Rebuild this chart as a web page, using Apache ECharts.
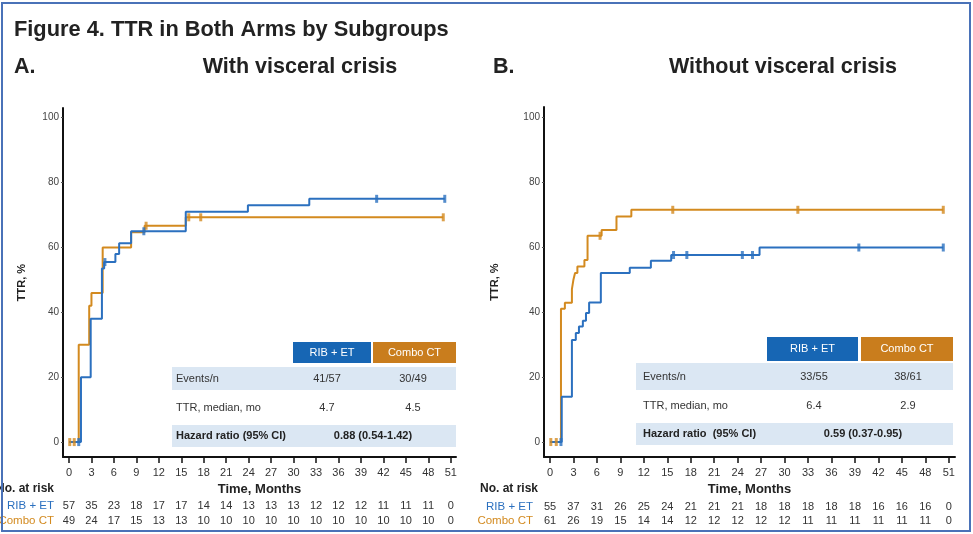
<!DOCTYPE html>
<html>
<head>
<meta charset="utf-8">
<script src="https://cdn.jsdelivr.net/npm/echarts@6/dist/echarts.min.js"></script>
<style>
  html, body { margin: 0; padding: 0; background: #fff; }
  #chart { width: 973px; height: 534px; }
</style>
</head>
<body>
<div id="chart"></div>
<script>
// ---- Axis ticks ----
const monthTicks = [0, 3, 6, 9, 12, 15, 18, 21, 24, 27, 30, 33, 36, 39, 42, 45, 48, 51];
const pctTicks = [0, 20, 40, 60, 80, 100];

// ---- Panel A: with visceral crisis (time in months, cumulative TTR %) ----
const ribWithVC = [[0, 0], [1.6, 20], [2.9, 38], [4.4, 53.5], [4.7, 55.5], [6.2, 58], [6.7, 61.3], [8.3, 65],
  [15.6, 71], [23.9, 73], [32.1, 75], [50.2, 75]];
const ribWithVCCensor = [[1.3, 0], [4.8, 55.5], [10.0, 65], [41.1, 75], [50.2, 75]];
const comboWithVC = [[0, 0], [1.3, 30], [2.7, 42], [3.0, 46], [4.5, 60], [8.3, 64.7], [10.1, 66.7],
  [15.6, 69.3], [50, 69.3]];
const comboWithVCCensor = [[0.1, 0], [0.7, 0], [10.3, 66.7], [16, 69.3], [17.6, 69.3], [50, 69.3]];
const riskRibWithVC = [57, 35, 23, 18, 17, 17, 14, 14, 13, 13, 13, 12, 12, 12, 11, 11, 11, 0];
const riskComboWithVC = [49, 24, 17, 15, 13, 13, 10, 10, 10, 10, 10, 10, 10, 10, 10, 10, 10, 0];
const statsWithVC = { events: ['41/57', '30/49'], median: ['4.7', '4.5'], hr: '0.88 (0.54-1.42)' };

// ---- Panel B: without visceral crisis ----
const ribNoVC = [[0, 0], [1.5, 13.9], [2.8, 31.4], [3.3, 33.5], [3.7, 35.5], [4.2, 37.3], [4.6, 39.7],
  [5.0, 42.9], [6.5, 52], [10.2, 53.6], [12.9, 55.7], [15.5, 57.5], [26.8, 59.8], [50.3, 59.8]];
const ribNoVCCensor = [[1.4, 0], [15.8, 57.5], [17.5, 57.5], [24.6, 57.5], [25.9, 57.5], [39.5, 59.8], [50.3, 59.8]];
const comboNoVC = [[0, 0], [1.4, 41], [1.9, 42.8], [2.8, 47], [3.0, 50], [3.2, 52], [3.5, 54], [4.4, 56],
  [4.8, 63.4], [6.6, 65.2], [8.5, 69.3], [10.4, 71.4], [50.3, 71.4]];
const comboNoVCCensor = [[0.1, 0], [0.8, 0], [6.4, 63.4], [15.7, 71.4], [31.7, 71.4], [50.3, 71.4]];
const riskRibNoVC = [55, 37, 31, 26, 25, 24, 21, 21, 21, 18, 18, 18, 18, 18, 16, 16, 16, 0];
const riskComboNoVC = [61, 26, 19, 15, 14, 14, 12, 12, 12, 12, 12, 11, 11, 11, 11, 11, 11, 0];
const statsNoVC = { events: ['33/55', '38/61'], median: ['6.4', '2.9'], hr: '0.59 (0.37-0.95)' };

// ---- Styling ----
const FONT = '"Liberation Sans", Arial, sans-serif';
const BLUE = '#2b70bf';
const ORANGE = '#d38a1f';
const HEAD_BLUE = '#1766b4';
const HEAD_ORANGE = '#c97d1d';
const BAND = '#dbe7f3';
const INK = '#222';

const chart = echarts.init(document.getElementById('chart'), null, { renderer: 'canvas' });

function mainX(gridIndex, min, max) {
  return {
    gridIndex, type: 'value', min, max,
    axisLine: { show: true, onZero: false, lineStyle: { color: '#111', width: 2 } },
    axisTick: { show: true, customValues: monthTicks, length: 6, lineStyle: { color: '#111', width: 1.5 } },
    axisLabel: { customValues: monthTicks, color: '#333', fontSize: 11, fontFamily: FONT, margin: 10 },
    splitLine: { show: false },
    name: 'Time, Months', nameLocation: 'middle', nameGap: 26,
    nameTextStyle: { fontWeight: 'bold', fontSize: 13, color: INK, fontFamily: FONT, verticalAlign: 'top' }
  };
}
function riskX(gridIndex, min, max, counts, offset) {
  return {
    gridIndex, type: 'value', min, max, position: 'bottom', offset,
    axisLine: { show: false }, axisTick: { show: false }, splitLine: { show: false },
    axisLabel: {
      customValues: monthTicks, margin: 0, color: '#333', fontSize: 11, fontFamily: FONT,
      formatter: v => String(counts[monthTicks.indexOf(v)])
    }
  };
}
function mainY(gridIndex, nameGap) {
  return {
    gridIndex, type: 'value', min: -4.6, max: 103,
    axisLine: { show: true, onZero: false, lineStyle: { color: '#111', width: 2 } },
    axisTick: { show: true, customValues: pctTicks, length: 2, lineStyle: { color: '#555' } },
    axisLabel: { customValues: pctTicks, color: '#444', fontSize: 10, fontFamily: FONT, margin: 4 },
    splitLine: { show: false },
    name: 'TTR, %', nameLocation: 'middle', nameGap, nameRotate: 90,
    nameTextStyle: { fontWeight: 'bold', fontSize: 11, color: INK, fontFamily: FONT }
  };
}
function curve(xi, data, color) {
  return { type: 'line', xAxisIndex: xi, yAxisIndex: xi === 0 ? 0 : 1, data, step: 'end',
    symbol: 'none', lineStyle: { color, width: 2 }, animation: false, z: 3 };
}
function censor(xi, data, color) {
  return { type: 'scatter', xAxisIndex: xi, yAxisIndex: xi === 0 ? 0 : 1, data, symbol: 'rect',
    symbolSize: [3, 8], itemStyle: { color }, animation: false, z: 4 };
}

function txt(x, y, text, o = {}) {
  return { type: 'text', x, y, z: 10, style: Object.assign({
    text, fontFamily: FONT, fontSize: 11, fill: '#333', textAlign: 'left', textVerticalAlign: 'middle'
  }, o) };
}
function box(x, y, width, height, fill) {
  return { type: 'rect', z: 5, shape: { x, y, width, height }, style: { fill } };
}
function statsTable(t, stats) {
  return [
    box(t.headX1, t.headY, t.headW1, t.headH, HEAD_BLUE),
    box(t.headX2, t.headY, t.headW2, t.headH, HEAD_ORANGE),
    txt(t.headX1 + t.headW1 / 2, t.headY + t.headH / 2, 'RIB + ET', { fill: '#fff', textAlign: 'center' }),
    txt(t.headX2 + t.headW2 / 2, t.headY + t.headH / 2, 'Combo CT', { fill: '#fff', textAlign: 'center' }),
    box(t.bandX, t.row1Y, t.bandW, t.row1H, BAND),
    box(t.bandX, t.row3Y, t.bandW, t.row3H, BAND),
    txt(t.labelX, t.row1Y + t.row1H / 2, 'Events/n'),
    txt(t.col1, t.row1Y + t.row1H / 2, stats.events[0], { textAlign: 'center' }),
    txt(t.col2, t.row1Y + t.row1H / 2, stats.events[1], { textAlign: 'center' }),
    txt(t.labelX, t.row2Y, 'TTR, median, mo'),
    txt(t.col1, t.row2Y, stats.median[0], { textAlign: 'center' }),
    txt(t.col2, t.row2Y, stats.median[1], { textAlign: 'center' }),
    txt(t.labelX, t.row3Y + t.row3H / 2, t.hrLabel, { fontWeight: 'bold', fill: INK }),
    txt(t.hrX, t.row3Y + t.row3H / 2, stats.hr, { fontWeight: 'bold', fill: INK, textAlign: 'center' })
  ];
}

const option = {
  backgroundColor: '#fff',
  animation: false,
  grid: [
    { left: 63, top: 108, width: 393, height: 349 },
    { left: 544, top: 107, width: 411, height: 350 }
  ],
  xAxis: [
    mainX(0, -0.8, 51.7),
    mainX(1, -0.77, 51.8),
    riskX(0, -0.8, 51.7, riskRibWithVC, 43),
    riskX(0, -0.8, 51.7, riskComboWithVC, 58),
    riskX(1, -0.77, 51.8, riskRibNoVC, 44),
    riskX(1, -0.77, 51.8, riskComboNoVC, 58)
  ],
  yAxis: [mainY(0, 36), mainY(1, 44)],
  series: [
    curve(0, comboWithVC, ORANGE), curve(0, ribWithVC, BLUE),
    censor(0, comboWithVCCensor, ORANGE), censor(0, ribWithVCCensor, BLUE),
    curve(1, comboNoVC, ORANGE), curve(1, ribNoVC, BLUE),
    censor(1, comboNoVCCensor, ORANGE), censor(1, ribNoVCCensor, BLUE)
  ],
  graphic: [].concat(
    [
      txt(14, 30, 'Figure 4. TTR in Both Arms by Subgroups', { fontSize: 21.8, fontWeight: 'bold', fill: INK }),
      txt(14, 67, 'A.', { fontSize: 21.5, fontWeight: 'bold', fill: INK }),
      txt(300, 67, 'With visceral crisis', { fontSize: 21.5, fontWeight: 'bold', fill: INK, textAlign: 'center' }),
      txt(493, 67, 'B.', { fontSize: 21.5, fontWeight: 'bold', fill: INK }),
      txt(783, 67, 'Without visceral crisis', { fontSize: 21.5, fontWeight: 'bold', fill: INK, textAlign: 'center' }),
      // at-risk row headers
      txt(54, 489, 'No. at risk', { fontSize: 12, fontWeight: 'bold', fill: INK, textAlign: 'right' }),
      txt(54, 506, 'RIB + ET', { fontSize: 11.5, fill: BLUE, textAlign: 'right' }),
      txt(54, 521, 'Combo CT', { fontSize: 11.5, fill: ORANGE, textAlign: 'right' }),
      txt(538, 489, 'No. at risk', { fontSize: 12, fontWeight: 'bold', fill: INK, textAlign: 'right' }),
      txt(533, 507, 'RIB + ET', { fontSize: 11.5, fill: BLUE, textAlign: 'right' }),
      txt(533, 521, 'Combo CT', { fontSize: 11.5, fill: ORANGE, textAlign: 'right' })
    ],
    statsTable({ headX1: 293, headW1: 78, headX2: 373, headW2: 83, headY: 342, headH: 21,
      bandX: 172, bandW: 284, row1Y: 367, row1H: 23, row2Y: 408, row3Y: 425, row3H: 22,
      labelX: 176, col1: 327, col2: 413, hrX: 373, hrLabel: 'Hazard ratio (95% CI)' }, statsWithVC),
    statsTable({ headX1: 767, headW1: 91, headX2: 861, headW2: 92, headY: 337, headH: 24,
      bandX: 636, bandW: 317, row1Y: 363, row1H: 27, row2Y: 406, row3Y: 423, row3H: 22,
      labelX: 643, col1: 814, col2: 908, hrX: 863, hrLabel: 'Hazard ratio  (95% CI)' }, statsNoVC),
    [
      { type: 'rect', z: 20, shape: { x: 2, y: 3, width: 968, height: 528 },
        style: { fill: 'none', stroke: '#4a72b8', lineWidth: 2 } }
    ]
  )
};

chart.setOption(option);
</script>
</body>
</html>
